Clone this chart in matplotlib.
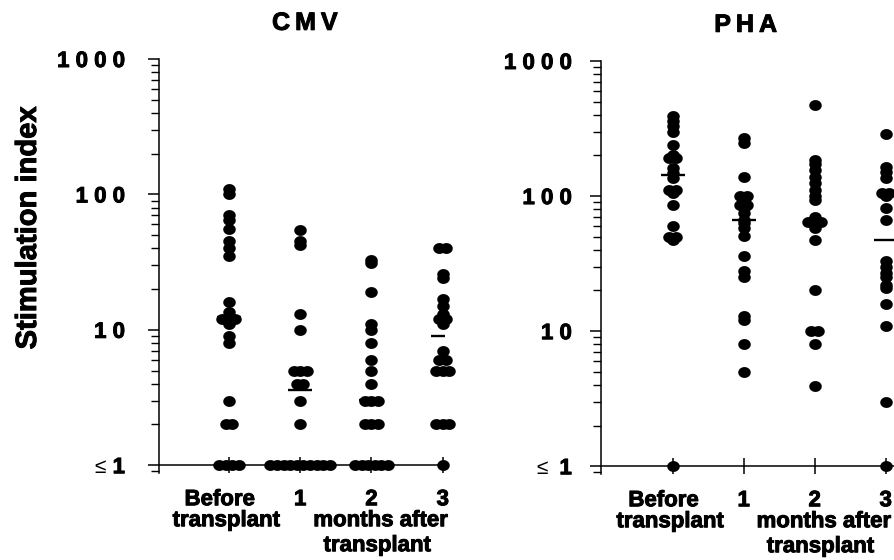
import numpy as np
import matplotlib
matplotlib.use('Agg')
import matplotlib.pyplot as plt
import matplotlib.patheffects as pe
from matplotlib.path import Path
from matplotlib.ticker import FixedLocator, LogLocator, NullFormatter, FixedFormatter

plt.rcParams['font.family'] = ['Liberation Sans', 'DejaVu Sans']

# ---------------- data ----------------
panel_titles = ['C\u2009M\u2009V', 'P\u2009H\u2009A']
category_labels = ['Before', '1', '2', '3']
ytick_values = [1, 10, 100, 1000]
ytick_labels = ['1', '1 0', '1 0 0', '1 0 0 0']
ylabel_text = 'Stimulation index'

cmv_before = [110, 100, 70, 65, 56, 45, 40, 35, 16, 13.5, 12, 12, 12, 11, 9, 8, 3, 2, 2, 1, 1, 1, 1]
cmv_month1 = [55, 45, 42, 13, 10, 5, 5, 5, 4, 4, 3, 2, 1, 1, 1, 1, 1, 1, 1, 1, 1, 1]
cmv_month2 = [33, 31, 19, 11, 10, 8, 6, 5, 4, 3, 3, 3, 2, 2, 2, 1, 1, 1, 1, 1, 1]
cmv_month3 = [40, 40, 26, 24, 17, 15, 13, 12, 12, 11, 7, 6, 6, 5, 5, 5, 2, 2, 2, 1]
cmv_means = [12.5, 3.6, 3.05, 9.0]

pha_before = [390, 360, 330, 298, 238, 200, 190, 190, 160, 147, 135, 111, 111, 105, 86, 60, 50, 50, 47, 1]
pha_month1 = [267, 246, 138, 100, 100, 86, 86, 81, 75, 66, 63, 58, 51, 36, 28, 25, 13, 12, 8, 5]
pha_month2 = [470, 185, 172, 155, 138, 124, 111, 100, 93, 70, 64, 64, 64, 58, 47, 20, 10, 10, 8, 3.9]
pha_month3 = [290, 165, 150, 135, 105, 105, 100, 82, 66, 33, 30, 27, 25, 22, 21, 16, 11, 3, 1]
pha_means = [142, 66, 63, 47]

panels = [
    dict(title=panel_titles[0], groups=[cmv_before, cmv_month1, cmv_month2, cmv_month3],
         means=cmv_means),
    dict(title=panel_titles[1], groups=[pha_before, pha_month1, pha_month2, pha_month3],
         means=pha_means),
]

# ---------------- layout ----------------
W, H = 894, 560
fig = plt.figure(figsize=(W / 100, H / 100), dpi=100)

layout = [
    dict(rect=[159 / W, 0.155, 285.9 / W, 0.7396], xlim=(-0.98, 3.03), pad=16.5, title_dx=2),
    dict(rect=[601 / W, 0.1532, 298.9 / W, 0.7379], xlim=(-1.01, 3.2), pad=13.0, title_dx=-3.5),
]

heavy = [pe.withStroke(linewidth=0.7, foreground='black')]

t = np.linspace(0, 2 * np.pi, 60)
ellipse = Path(np.column_stack([1.15 * np.cos(t), np.sin(t)]), closed=True)
DOT_SPACING_PX = 6.6


def swarm_offsets(values, step):
    vals = np.asarray(values, float)
    offs = np.zeros(len(vals))
    for v in np.unique(vals):
        idx = np.where(vals == v)[0]
        n = len(idx)
        offs[idx] = (np.arange(n) - (n - 1) / 2) * step
    return offs


for panel, lay in zip(panels, layout):
    ax = fig.add_axes(lay['rect'])
    ax.set_yscale('log')
    ax.set_ylim(0.873, 1000)
    ax.set_xlim(*lay['xlim'])
    for s in ['top', 'right', 'bottom']:
        ax.spines[s].set_visible(False)
    ax.spines['left'].set_linewidth(1.1)
    ax.set_xticks([])
    ax.yaxis.set_major_locator(FixedLocator(ytick_values))
    ax.yaxis.set_major_formatter(FixedFormatter(ytick_labels))
    ax.yaxis.set_minor_locator(LogLocator(base=10, subs=range(2, 10)))
    ax.yaxis.set_minor_formatter(NullFormatter())
    ax.tick_params(axis='y', which='major', direction='out', length=8, width=1.1,
                   pad=lay['pad'], labelsize=16)
    ax.tick_params(axis='y', which='minor', direction='out', length=5.5, width=1.0)
    for lbl in ax.get_yticklabels():
        lbl.set_fontweight('bold')
        lbl.set_path_effects(heavy)

    # x axis line at the <=1 level
    ax.axhline(1, color='black', lw=1.1, zorder=2)
    xs = np.arange(len(category_labels))
    ax.plot(xs, np.ones(len(xs)), ls='none', marker='|', ms=12, mew=1.1,
            color='black', zorder=2, clip_on=False)

    # dot spacing in data units
    ax_w_px = lay['rect'][2] * W
    px_per_unit = ax_w_px / (lay['xlim'][1] - lay['xlim'][0])
    step = DOT_SPACING_PX / px_per_unit

    for i, vals in enumerate(panel['groups']):
        offs = swarm_offsets(vals, step)
        ax.scatter(i + offs, vals, s=9.0 ** 2, marker=ellipse, color='black',
                   linewidths=0, zorder=3, clip_on=False)
    half = 12 / px_per_unit
    ax.hlines(panel['means'], xs - half, xs + half, color='black', lw=1.7, zorder=4)

    # <= sign before the 1 label
    ax.annotate('\u2264', xy=(0, 1), xycoords=('axes fraction', 'data'),
                xytext=(-38, 0), textcoords='offset points', ha='right',
                va='center_baseline', fontsize=15, fontweight='normal')

    # title
    ax.annotate(panel['title'], xy=(0.5, 1), xycoords='axes fraction',
                xytext=(lay['title_dx'], 21), textcoords='offset points',
                ha='center', va='baseline', fontsize=18, fontweight='bold',
                path_effects=heavy)

    # x labels
    lab_kw = dict(xycoords='data', textcoords='offset points', ha='center',
                  va='baseline', fontsize=16, fontweight='bold', annotation_clip=False,
                  path_effects=heavy)
    ax.annotate(category_labels[0], xy=(0, 1), xytext=(-6.5, -28.8), **lab_kw)
    ax.annotate('transplant', xy=(0, 1), xytext=(-2, -43.9), **lab_kw)
    for i in range(1, 4):
        ax.annotate(category_labels[i], xy=(i, 1), xytext=(0, -28.8), **lab_kw)
    ax.annotate('months after', xy=(2, 1), xytext=(6.5, -43.9), **lab_kw)
    ax.annotate('transplant', xy=(2, 1), xytext=(4, -61.9), **lab_kw)

fig.text(28 / W, (H - 228) / H, ylabel_text, rotation=90, ha='center', va='center',
         fontsize=21, fontweight='bold', path_effects=heavy)

fig.savefig('out.png', dpi=100)
